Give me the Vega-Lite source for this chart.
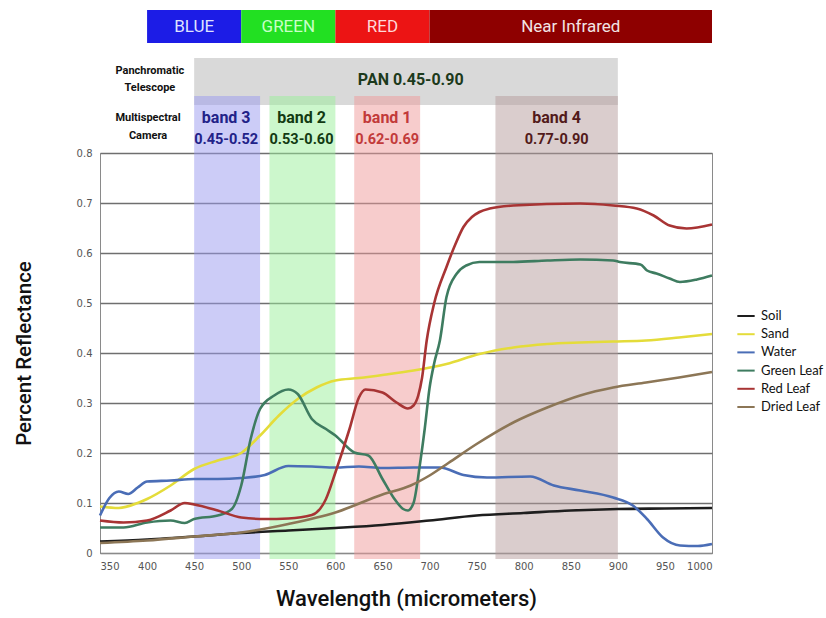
{
  "$schema": "https://vega.github.io/schema/vega-lite/v6.json",
  "autosize": {"type": "none"},
  "width": 612,
  "height": 400,
  "padding": {"left": 100, "top": 153, "right": 114, "bottom": 65},
  "background": "white",
  "config": {
    "view": {"stroke": "#8a8a8a", "strokeWidth": 1},
    "font": "DejaVu Sans",
    "axis": {"labelFont": "DejaVu Sans", "labelFontSize": 10, "labelColor": "#555555", "ticks": false, "domain": false, "grid": true, "gridColor": "#6f6f6f", "gridWidth": 1.3}
  },
  "datasets": {
    "curves": [
      {"nm": 350, "r": 0.023, "s": "Soil"}, {"nm": 400, "r": 0.027, "s": "Soil"}, {"nm": 450, "r": 0.033, "s": "Soil"}, {"nm": 500, "r": 0.040, "s": "Soil"}, {"nm": 550, "r": 0.045, "s": "Soil"}, {"nm": 600, "r": 0.050, "s": "Soil"}, {"nm": 650, "r": 0.056, "s": "Soil"}, {"nm": 700, "r": 0.065, "s": "Soil"}, {"nm": 750, "r": 0.075, "s": "Soil"}, {"nm": 800, "r": 0.080, "s": "Soil"}, {"nm": 850, "r": 0.085, "s": "Soil"}, {"nm": 900, "r": 0.088, "s": "Soil"}, {"nm": 950, "r": 0.089, "s": "Soil"}, {"nm": 1000, "r": 0.090, "s": "Soil"},

      {"nm": 350, "r": 0.093, "s": "Sand"}, {"nm": 370, "r": 0.090, "s": "Sand"}, {"nm": 390, "r": 0.100, "s": "Sand"}, {"nm": 400, "r": 0.108, "s": "Sand"}, {"nm": 425, "r": 0.135, "s": "Sand"}, {"nm": 450, "r": 0.168, "s": "Sand"}, {"nm": 475, "r": 0.185, "s": "Sand"}, {"nm": 500, "r": 0.200, "s": "Sand"}, {"nm": 520, "r": 0.235, "s": "Sand"}, {"nm": 540, "r": 0.275, "s": "Sand"}, {"nm": 560, "r": 0.308, "s": "Sand"}, {"nm": 580, "r": 0.331, "s": "Sand"}, {"nm": 600, "r": 0.345, "s": "Sand"}, {"nm": 625, "r": 0.350, "s": "Sand"}, {"nm": 650, "r": 0.356, "s": "Sand"}, {"nm": 683, "r": 0.365, "s": "Sand"}, {"nm": 718, "r": 0.378, "s": "Sand"}, {"nm": 753, "r": 0.398, "s": "Sand"}, {"nm": 789, "r": 0.411, "s": "Sand"}, {"nm": 825, "r": 0.418, "s": "Sand"}, {"nm": 860, "r": 0.421, "s": "Sand"}, {"nm": 895, "r": 0.423, "s": "Sand"}, {"nm": 930, "r": 0.425, "s": "Sand"}, {"nm": 965, "r": 0.431, "s": "Sand"}, {"nm": 1000, "r": 0.438, "s": "Sand"},

      {"nm": 350, "r": 0.075, "s": "Water"}, {"nm": 360, "r": 0.110, "s": "Water"}, {"nm": 370, "r": 0.123, "s": "Water"}, {"nm": 380, "r": 0.118, "s": "Water"}, {"nm": 390, "r": 0.131, "s": "Water"}, {"nm": 400, "r": 0.143, "s": "Water"}, {"nm": 425, "r": 0.145, "s": "Water"}, {"nm": 450, "r": 0.148, "s": "Water"}, {"nm": 475, "r": 0.148, "s": "Water"}, {"nm": 500, "r": 0.150, "s": "Water"}, {"nm": 525, "r": 0.156, "s": "Water"}, {"nm": 550, "r": 0.174, "s": "Water"}, {"nm": 575, "r": 0.173, "s": "Water"}, {"nm": 600, "r": 0.171, "s": "Water"}, {"nm": 625, "r": 0.173, "s": "Water"}, {"nm": 650, "r": 0.170, "s": "Water"}, {"nm": 683, "r": 0.171, "s": "Water"}, {"nm": 711, "r": 0.171, "s": "Water"}, {"nm": 736, "r": 0.156, "s": "Water"}, {"nm": 761, "r": 0.151, "s": "Water"}, {"nm": 807, "r": 0.153, "s": "Water"}, {"nm": 832, "r": 0.135, "s": "Water"}, {"nm": 860, "r": 0.125, "s": "Water"}, {"nm": 895, "r": 0.111, "s": "Water"}, {"nm": 916, "r": 0.095, "s": "Water"}, {"nm": 931, "r": 0.068, "s": "Water"}, {"nm": 948, "r": 0.031, "s": "Water"}, {"nm": 966, "r": 0.015, "s": "Water"}, {"nm": 985, "r": 0.014, "s": "Water"}, {"nm": 1000, "r": 0.018, "s": "Water"},

      {"nm": 350, "r": 0.051, "s": "Green Leaf"}, {"nm": 375, "r": 0.051, "s": "Green Leaf"}, {"nm": 400, "r": 0.061, "s": "Green Leaf"}, {"nm": 425, "r": 0.065, "s": "Green Leaf"}, {"nm": 440, "r": 0.060, "s": "Green Leaf"}, {"nm": 450, "r": 0.068, "s": "Green Leaf"}, {"nm": 475, "r": 0.075, "s": "Green Leaf"}, {"nm": 490, "r": 0.088, "s": "Green Leaf"}, {"nm": 500, "r": 0.135, "s": "Green Leaf"}, {"nm": 510, "r": 0.228, "s": "Green Leaf"}, {"nm": 520, "r": 0.288, "s": "Green Leaf"}, {"nm": 535, "r": 0.315, "s": "Green Leaf"}, {"nm": 550, "r": 0.327, "s": "Green Leaf"}, {"nm": 560, "r": 0.318, "s": "Green Leaf"}, {"nm": 575, "r": 0.268, "s": "Green Leaf"}, {"nm": 590, "r": 0.248, "s": "Green Leaf"}, {"nm": 600, "r": 0.235, "s": "Green Leaf"}, {"nm": 620, "r": 0.201, "s": "Green Leaf"}, {"nm": 635, "r": 0.195, "s": "Green Leaf"}, {"nm": 650, "r": 0.148, "s": "Green Leaf"}, {"nm": 662, "r": 0.110, "s": "Green Leaf"}, {"nm": 672, "r": 0.088, "s": "Green Leaf"}, {"nm": 677, "r": 0.085, "s": "Green Leaf"}, {"nm": 683, "r": 0.100, "s": "Green Leaf"}, {"nm": 690, "r": 0.180, "s": "Green Leaf"}, {"nm": 695, "r": 0.250, "s": "Green Leaf"}, {"nm": 700, "r": 0.330, "s": "Green Leaf"}, {"nm": 705, "r": 0.380, "s": "Green Leaf"}, {"nm": 711, "r": 0.425, "s": "Green Leaf"}, {"nm": 718, "r": 0.512, "s": "Green Leaf"}, {"nm": 729, "r": 0.559, "s": "Green Leaf"}, {"nm": 739, "r": 0.575, "s": "Green Leaf"}, {"nm": 753, "r": 0.582, "s": "Green Leaf"}, {"nm": 789, "r": 0.582, "s": "Green Leaf"}, {"nm": 825, "r": 0.585, "s": "Green Leaf"}, {"nm": 860, "r": 0.587, "s": "Green Leaf"}, {"nm": 895, "r": 0.585, "s": "Green Leaf"}, {"nm": 902, "r": 0.582, "s": "Green Leaf"}, {"nm": 924, "r": 0.577, "s": "Green Leaf"}, {"nm": 931, "r": 0.565, "s": "Green Leaf"}, {"nm": 941, "r": 0.559, "s": "Green Leaf"}, {"nm": 955, "r": 0.549, "s": "Green Leaf"}, {"nm": 966, "r": 0.542, "s": "Green Leaf"}, {"nm": 984, "r": 0.547, "s": "Green Leaf"}, {"nm": 1000, "r": 0.555, "s": "Green Leaf"},

      {"nm": 350, "r": 0.065, "s": "Red Leaf"}, {"nm": 375, "r": 0.061, "s": "Red Leaf"}, {"nm": 400, "r": 0.065, "s": "Red Leaf"}, {"nm": 425, "r": 0.085, "s": "Red Leaf"}, {"nm": 440, "r": 0.100, "s": "Red Leaf"}, {"nm": 450, "r": 0.097, "s": "Red Leaf"}, {"nm": 475, "r": 0.085, "s": "Red Leaf"}, {"nm": 500, "r": 0.071, "s": "Red Leaf"}, {"nm": 525, "r": 0.068, "s": "Red Leaf"}, {"nm": 550, "r": 0.069, "s": "Red Leaf"}, {"nm": 575, "r": 0.076, "s": "Red Leaf"}, {"nm": 590, "r": 0.108, "s": "Red Leaf"}, {"nm": 600, "r": 0.161, "s": "Red Leaf"}, {"nm": 615, "r": 0.248, "s": "Red Leaf"}, {"nm": 625, "r": 0.311, "s": "Red Leaf"}, {"nm": 632, "r": 0.327, "s": "Red Leaf"}, {"nm": 650, "r": 0.321, "s": "Red Leaf"}, {"nm": 665, "r": 0.301, "s": "Red Leaf"}, {"nm": 677, "r": 0.289, "s": "Red Leaf"}, {"nm": 683, "r": 0.295, "s": "Red Leaf"}, {"nm": 688, "r": 0.315, "s": "Red Leaf"}, {"nm": 692, "r": 0.350, "s": "Red Leaf"}, {"nm": 697, "r": 0.425, "s": "Red Leaf"}, {"nm": 705, "r": 0.500, "s": "Red Leaf"}, {"nm": 718, "r": 0.572, "s": "Red Leaf"}, {"nm": 728, "r": 0.620, "s": "Red Leaf"}, {"nm": 736, "r": 0.652, "s": "Red Leaf"}, {"nm": 745, "r": 0.672, "s": "Red Leaf"}, {"nm": 753, "r": 0.682, "s": "Red Leaf"}, {"nm": 764, "r": 0.689, "s": "Red Leaf"}, {"nm": 789, "r": 0.695, "s": "Red Leaf"}, {"nm": 860, "r": 0.699, "s": "Red Leaf"}, {"nm": 895, "r": 0.695, "s": "Red Leaf"}, {"nm": 920, "r": 0.689, "s": "Red Leaf"}, {"nm": 938, "r": 0.675, "s": "Red Leaf"}, {"nm": 955, "r": 0.655, "s": "Red Leaf"}, {"nm": 973, "r": 0.649, "s": "Red Leaf"}, {"nm": 1000, "r": 0.657, "s": "Red Leaf"},

      {"nm": 350, "r": 0.020, "s": "Dried Leaf"}, {"nm": 400, "r": 0.025, "s": "Dried Leaf"}, {"nm": 450, "r": 0.033, "s": "Dried Leaf"}, {"nm": 500, "r": 0.041, "s": "Dried Leaf"}, {"nm": 550, "r": 0.058, "s": "Dried Leaf"}, {"nm": 600, "r": 0.081, "s": "Dried Leaf"}, {"nm": 650, "r": 0.117, "s": "Dried Leaf"}, {"nm": 680, "r": 0.135, "s": "Dried Leaf"}, {"nm": 700, "r": 0.155, "s": "Dried Leaf"}, {"nm": 720, "r": 0.180, "s": "Dried Leaf"}, {"nm": 750, "r": 0.218, "s": "Dried Leaf"}, {"nm": 790, "r": 0.262, "s": "Dried Leaf"}, {"nm": 825, "r": 0.291, "s": "Dried Leaf"}, {"nm": 860, "r": 0.315, "s": "Dried Leaf"}, {"nm": 895, "r": 0.331, "s": "Dried Leaf"}, {"nm": 930, "r": 0.341, "s": "Dried Leaf"}, {"nm": 965, "r": 0.351, "s": "Dried Leaf"}, {"nm": 1000, "r": 0.362, "s": "Dried Leaf"}
    ],
    "topbar": [
      {"name": "BLUE", "lo": 400, "hi": 500, "mid": 450},
      {"name": "GREEN", "lo": 500, "hi": 600, "mid": 550},
      {"name": "RED", "lo": 600, "hi": 700, "mid": 650},
      {"name": "Near Infrared", "lo": 700, "hi": 1000, "mid": 850}
    ],
    "bands": [
      {"band": "band 3", "range": "0.45-0.52", "lo": 450, "hi": 520, "mid": 484},
      {"band": "band 2", "range": "0.53-0.60", "lo": 530, "hi": 600, "mid": 564},
      {"band": "band 1", "range": "0.62-0.69", "lo": 620, "hi": 690, "mid": 655},
      {"band": "band 4", "range": "0.77-0.90", "lo": 770, "hi": 900, "mid": 835}
    ]
  },
  "resolve": {"scale": {"color": "independent"}, "legend": {"color": "independent"}},
  "layer": [
    {
      "data": {"name": "topbar"},
      "mark": {"type": "rect"},
      "encoding": {
        "x": {"field": "lo", "type": "quantitative", "scale": {"domain": [350, 1000], "nice": false, "zero": false}, "axis": {"values": [350, 400, 450, 500, 550, 600, 650, 700, 750, 800, 850, 900, 950, 1000], "format": "d", "grid": false, "title": "Wavelength (micrometers)", "titleFont": "Roboto", "titleFontSize": 22, "titleFontWeight": 500, "titleColor": "#111", "titleY": 35, "titleBaseline": "top", "labelPadding": 8, "domain": true, "domainColor": "#8a8a8a"}},
        "x2": {"field": "hi"},
        "y": {"datum": 1.086, "type": "quantitative", "scale": {"domain": [0, 0.8], "nice": false, "zero": true}, "axis": {"values": [0, 0.1, 0.2, 0.3, 0.4, 0.5, 0.6, 0.7, 0.8], "labelExpr": "datum.value == 0 ? '0' : format(datum.value, '.1f')", "labelPadding": 8, "title": "Percent Reflectance", "titleFont": "Roboto", "titleFontSize": 20.5, "titleFontWeight": 500, "titleColor": "#111", "titleX": -66, "titleY": 200, "titleAngle": -90, "titleBaseline": "bottom", "titleAlign": "center"}},
        "y2": {"datum": 1.02},
        "color": {"field": "name", "type": "nominal", "legend": null, "scale": {"domain": ["BLUE", "GREEN", "RED", "Near Infrared"], "range": ["#1c1ce6", "#22e022", "#ec1414", "#8e0000"]}}
      }
    },
    {
      "data": {"name": "topbar"},
      "mark": {"type": "text", "font": "Roboto", "fontSize": 17, "baseline": "middle"},
      "encoding": {
        "x": {"field": "mid", "type": "quantitative"},
        "y": {"datum": 1.053, "type": "quantitative"},
        "text": {"field": "name"},
        "color": {"field": "name", "type": "nominal", "legend": null, "scale": {"domain": ["BLUE", "GREEN", "RED", "Near Infrared"], "range": ["#dfe2ff", "#c8ffc8", "#ffd8d8", "#f2e4e4"]}}
      }
    },
    {
      "data": {"values": [{"lo": 450, "hi": 900}]},
      "mark": {"type": "rect", "color": "#cfcfcf", "opacity": 0.8},
      "encoding": {
        "x": {"field": "lo", "type": "quantitative"},
        "x2": {"field": "hi"},
        "y": {"datum": 0.99, "type": "quantitative"},
        "y2": {"datum": 0.896}
      }
    },
    {
      "data": {"name": "bands"},
      "mark": {"type": "rect", "opacity": 0.5},
      "encoding": {
        "x": {"field": "lo", "type": "quantitative"},
        "x2": {"field": "hi"},
        "y": {"datum": 0.914, "type": "quantitative"},
        "y2": {"datum": -0.012},
        "color": {"field": "band", "type": "nominal", "legend": null, "scale": {"domain": ["band 3", "band 2", "band 1", "band 4"], "range": ["#9999f0", "#99ef99", "#f09999", "#b59b9b"]}}
      }
    },
    {
      "data": {"name": "curves"},
      "mark": {"type": "line", "strokeWidth": 2.6, "interpolate": "monotone"},
      "encoding": {
        "x": {"field": "nm", "type": "quantitative"},
        "y": {"field": "r", "type": "quantitative"},
        "color": {"field": "s", "type": "nominal", "title": null,
          "scale": {"domain": ["Soil", "Sand", "Water", "Green Leaf", "Red Leaf", "Dried Leaf"], "range": ["#1e1e1e", "#e4dc3a", "#4a6db6", "#3e7c60", "#a83434", "#8c7656"]},
          "legend": {"orient": "none", "legendX": 636, "legendY": 153, "symbolType": "stroke", "symbolSize": 300, "symbolStrokeWidth": 2, "labelFont": "Lato", "labelFontSize": 13, "labelColor": "#111", "rowPadding": 1.2, "labelOffset": 5}},
        "order": {"field": "nm", "type": "quantitative"}
      }
    },
    {
      "data": {"values": [{"t": "PAN  0.45-0.90", "x": 680}]},
      "mark": {"type": "text", "font": "Roboto", "fontSize": 16, "fontWeight": "bold", "color": "#1c3a1c", "baseline": "middle"},
      "encoding": {
        "x": {"field": "x", "type": "quantitative"},
        "y": {"datum": 0.946, "type": "quantitative"},
        "text": {"field": "t"}
      }
    },
    {
      "data": {"name": "bands"},
      "mark": {"type": "text", "font": "Roboto", "fontSize": 16, "fontWeight": "bold", "baseline": "middle"},
      "encoding": {
        "x": {"field": "mid", "type": "quantitative"},
        "y": {"datum": 0.87, "type": "quantitative"},
        "text": {"field": "band"},
        "color": {"field": "band", "type": "nominal", "legend": null, "scale": {"domain": ["band 3", "band 2", "band 1", "band 4"], "range": ["#222288", "#123a12", "#c23a3a", "#521a1a"]}}
      }
    },
    {
      "data": {"name": "bands"},
      "mark": {"type": "text", "font": "Roboto", "fontSize": 14.5, "fontWeight": "bold", "baseline": "middle"},
      "encoding": {
        "x": {"field": "mid", "type": "quantitative"},
        "y": {"datum": 0.826, "type": "quantitative"},
        "text": {"field": "range"},
        "color": {"field": "band", "type": "nominal", "legend": null, "scale": {"domain": ["band 3", "band 2", "band 1", "band 4"], "range": ["#222288", "#123a12", "#c23a3a", "#521a1a"]}}
      }
    },
    {
      "data": {"values": [{"t": ["Panchromatic", "Telescope"], "x": 403}]},
      "mark": {"type": "text", "font": "Roboto", "fontSize": 11, "fontWeight": "bold", "color": "#111", "baseline": "middle", "lineHeight": 17},
      "encoding": {
        "x": {"field": "x", "type": "quantitative"},
        "y": {"datum": 0.965, "type": "quantitative"},
        "text": {"field": "t"}
      }
    },
    {
      "data": {"values": [{"t": ["Multispectral", "Camera"], "x": 401}]},
      "mark": {"type": "text", "font": "Roboto", "fontSize": 11, "fontWeight": "bold", "color": "#111", "baseline": "middle", "lineHeight": 18},
      "encoding": {
        "x": {"field": "x", "type": "quantitative"},
        "y": {"datum": 0.871, "type": "quantitative"},
        "text": {"field": "t"}
      }
    }
  ]
}
